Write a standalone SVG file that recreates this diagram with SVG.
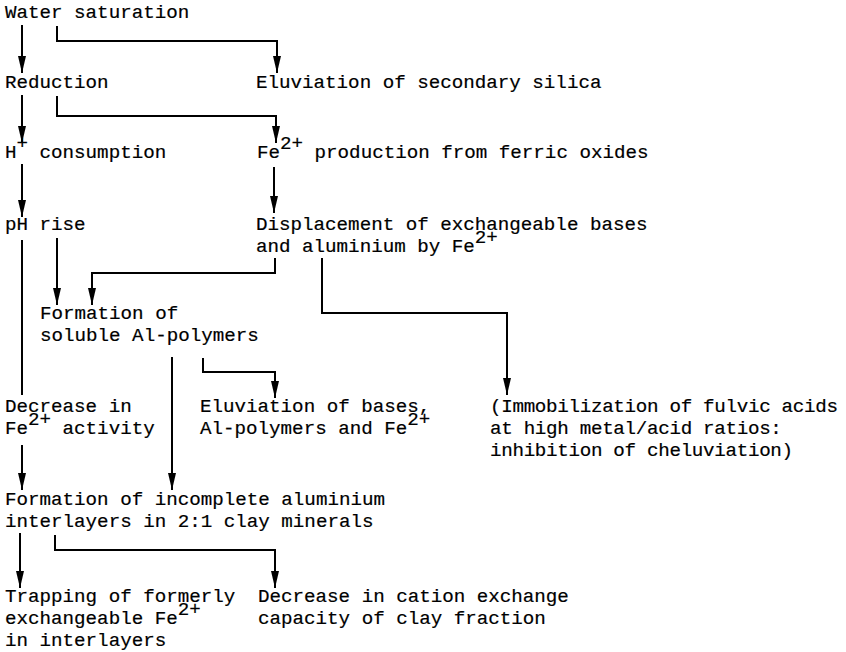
<svg xmlns="http://www.w3.org/2000/svg" width="846" height="652" viewBox="0 0 846 652">
<style>
text{font-family:"Liberation Mono","Courier New",monospace;font-size:19.2px;fill:#000;stroke:#000;stroke-width:0.2}
.c{fill:none;stroke:#000;stroke-width:2}
.a{marker-end:url(#ah)}
</style>
<defs>
<marker id="ah" markerUnits="userSpaceOnUse" markerWidth="18" markerHeight="10" refX="17" refY="5" orient="auto" viewBox="0 0 18 10">
<path d="M0,1 L17,5 L0,9 Z" fill="#000"/>
</marker>
</defs>
<rect width="846" height="652" fill="#fff"/>
<g id="connectors">
<path class="c a" d="M22,25 V73"/>
<path class="c a" d="M57,26 V41 H277 V73"/>
<path class="c a" d="M22,95 V143"/>
<path class="c a" d="M57,96 V116 H276 V143"/>
<path class="c a" d="M22,164 V217"/>
<path class="c a" d="M274,167 V213"/>
<path class="c a" d="M57,238 V305"/>
<path class="c a" d="M275,258 V273 H92 V305"/>
<path class="c a" d="M322,258 V313 H507 V395"/>
<path class="c" d="M22,240 V395"/>
<path class="c a" d="M22,445 V490"/>
<path class="c a" d="M172,357 V490"/>
<path class="c a" d="M203,358 V372 H275 V398"/>
<path class="c a" d="M20,533 V588"/>
<path class="c a" d="M55,535 V550 H275 V588"/>
</g>
<g id="water"><text x="5" y="18">Water saturation</text></g>
<g id="reduction"><text x="5" y="88">Reduction</text></g>
<g id="silica"><text x="256" y="88">Eluviation of secondary silica</text></g>
<g id="hcons"><text x="5" y="158">H<tspan dy="-9">+</tspan><tspan dy="9"> consumption</tspan></text></g>
<g id="fe"><text x="257" y="158">Fe<tspan dy="-9">2+</tspan><tspan dy="9"> production from ferric oxides</tspan></text></g>
<g id="ph"><text x="5" y="230">pH rise</text></g>
<g id="displacement"><text x="256" y="230">Displacement of exchangeable bases</text><text x="256" y="252">and aluminium by Fe<tspan dy="-9">2+</tspan></text></g>
<g id="alpoly"><text x="40" y="319">Formation of</text><text x="40" y="341">soluble Al-polymers</text></g>
<g id="decrease"><text x="5" y="412">Decrease in</text><text x="5" y="434">Fe<tspan dy="-9">2+</tspan><tspan dy="9"> activity</tspan></text></g>
<g id="eluvbases"><text x="200" y="412">Eluviation of bases,</text><text x="200" y="434">Al-polymers and Fe<tspan dy="-9">2+</tspan></text></g>
<g id="immob" letter-spacing="-0.3"><text x="490" y="412">(Immobilization of fulvic acids</text><text x="490" y="434">at high metal/acid ratios:</text><text x="490" y="456">inhibition of cheluviation)</text></g>
<g id="interlayers"><text x="5" y="505">Formation of incomplete aluminium</text><text x="5" y="527">interlayers in 2:1 clay minerals</text></g>
<g id="trapping"><text x="5" y="602">Trapping of formerly</text><text x="5" y="624">exchangeable Fe<tspan dy="-9">2+</tspan></text><text x="5" y="646">in interlayers</text></g>
<g id="cec"><text x="258" y="602">Decrease in cation exchange</text><text x="258" y="624">capacity of clay fraction</text></g>
</svg>
